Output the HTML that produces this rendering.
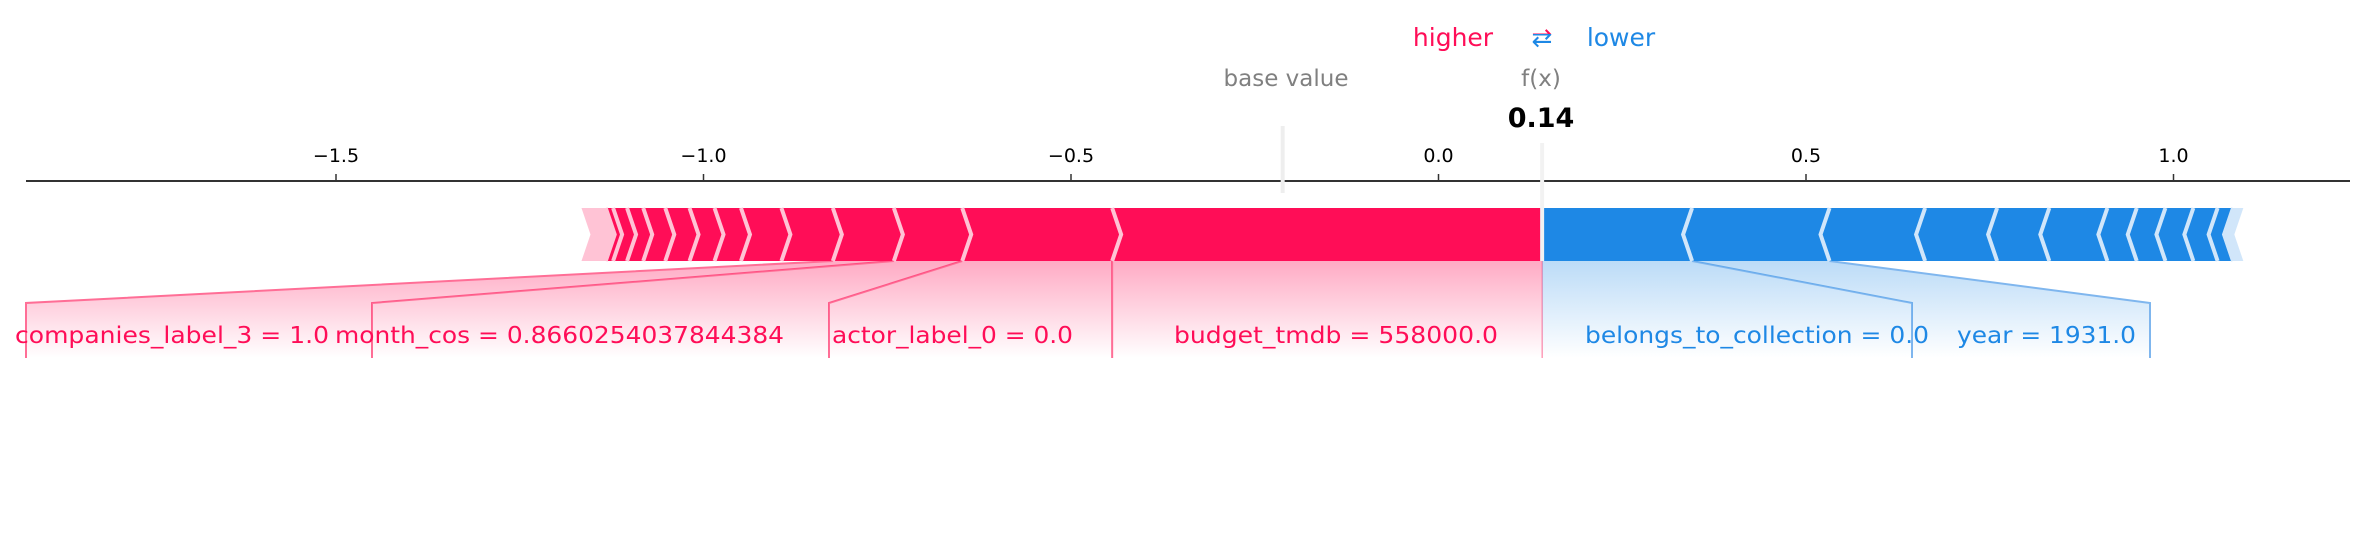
<!DOCTYPE html>
<html><head><meta charset="utf-8">
<style>
html,body{margin:0;padding:0;background:#fff;}
svg{display:block;font-family:"DejaVu Sans","Liberation Sans",sans-serif;}
</style></head>
<body>
<svg id="chart" width="2366" height="543" viewBox="0 0 2366 543" xmlns="http://www.w3.org/2000/svg">
<defs>
<linearGradient id="gr" x1="0" y1="0" x2="0" y2="1"><stop offset="0" stop-color="#ff0d57" stop-opacity="0.35"/><stop offset="1" stop-color="#ff0d57" stop-opacity="0"/></linearGradient>
<linearGradient id="gb" x1="0" y1="0" x2="0" y2="1"><stop offset="0" stop-color="#1e88e5" stop-opacity="0.3"/><stop offset="1" stop-color="#1e88e5" stop-opacity="0"/></linearGradient>
<clipPath id="arrTop"><rect x="1520" y="10" width="44" height="24"/></clipPath>
<clipPath id="arrBot"><rect x="1520" y="34" width="44" height="20"/></clipPath>
</defs>
<g id="shade"></g>
<g id="axis"></g>
<g id="bars"></g>
<g id="labels"></g>
<g id="header">
<text x="1453" y="46" font-size="25" fill="#ff0d57" text-anchor="middle">higher</text>
<text x="1542" y="46" font-size="25" fill="#ff0d57" text-anchor="middle" clip-path="url(#arrTop)">⇄</text>
<text x="1542" y="46" font-size="25" fill="#1e88e5" text-anchor="middle" clip-path="url(#arrBot)">⇄</text>
<text x="1621" y="46" font-size="25" fill="#1e88e5" text-anchor="middle">lower</text>
<text x="1286" y="86" font-size="23" fill="#808080" text-anchor="middle">base value</text>
<text x="1541" y="86" font-size="23" fill="#808080" text-anchor="middle">f(x)</text>
<text id="fxval" x="1541" y="127" font-size="27" font-weight="bold" fill="#000" text-anchor="middle"></text>
</g>
</svg>
<script>
const baseValue = -0.212;
const redNames = ["budget_tmdb = 558000.0","actor_label_0 = 0.0","month_cos = 0.8660254037844384","companies_label_3 = 1.0"];
const redValues = [0.585,0.204,0.093,0.083,0.070,0.055,0.036,0.034,0.033,0.030,0.022,0.019,0.010];
const redOther = 0.033;
const blueNames = ["belongs_to_collection = 0.0","year = 1931.0"];
const blueValues = [0.204,0.187,0.130,0.098,0.071,0.079,0.040,0.039,0.038,0.033,0.021];
const blueOther = 0.014;
const tickValues = [-1.5,-1.0,-0.5,0.0,0.5,1.0];
const tickLabels = ["\u22121.5","\u22121.0","\u22120.5","0.0","0.5","1.0"];

const NS="http://www.w3.org/2000/svg";
const X = v => 1438.5 + 735*v;
function mk(tag, attrs, parent){const e=document.createElementNS(NS,tag);for(const k in attrs)e.setAttribute(k,attrs[k]);document.getElementById(parent).appendChild(e);return e;}
const sum=a=>a.reduce((s,v)=>s+v,0);
const fx = baseValue + sum(redValues) + redOther - sum(blueValues) - blueOther;
document.getElementById('fxval').textContent = fx.toFixed(2);

const yTop=208, yBot=261, yMid=(yTop+yBot)/2, tip=9, knee=303, lend=358;

let ax = mk('line',{x1:26,x2:2350,y1:181,y2:181,stroke:'#333',"stroke-width":2},'axis');


tickValues.forEach((v,i)=>{
  const t=mk('line',{x1:X(v),x2:X(v),y1:174,y2:181,stroke:'#333',"stroke-width":1.5},'axis');
  
  
  const l=mk('text',{x:X(v),y:162,"font-size":19,"text-anchor":"middle",fill:'#000'},'axis');
  l.textContent=tickLabels[i];
  
  
});
let bl=mk('line',{x1:X(baseValue),x2:X(baseValue),y1:126,y2:193,stroke:'#eeeeee',"stroke-width":4},'axis');



const redB=[fx]; redValues.forEach(v=>redB.push(redB[redB.length-1]-v)); redB.push(redB[redB.length-1]-redOther);
const blueB=[fx]; blueValues.forEach(v=>blueB.push(blueB[blueB.length-1]+v)); blueB.push(blueB[blueB.length-1]+blueOther);

const redLabelLeft=[null,829,372,26];
const redText=[[1174,324],[832,241],[335,449],[15,314]];
for(let i=0;i<redNames.length;i++){
  const segR=X(redB[i]), segL=X(redB[i+1]);
  const lx = i===0? segL : redLabelLeft[i];
  const rx = i===0? X(fx) : (i===1? X(redB[1]) : redLabelLeft[i-1]);
  const p=mk('polygon',{points:`${segL},${yBot} ${segR},${yBot} ${rx},${knee} ${rx},${lend} ${lx},${lend} ${lx},${knee}`,fill:'url(#gr)'},'shade');
  
  
  const c=mk('polyline',{points:`${segL},${yBot} ${lx},${knee} ${lx},${lend}`,fill:'none',stroke:'#ff6e96',"stroke-width":2},'shade');
  
  
  const t=mk('text',{x:redText[i][0],y:343,"font-size":23,fill:'#ff0d57',textLength:redText[i][1],lengthAdjust:'spacingAndGlyphs'},'labels');
  t.textContent=redNames[i];
  
  
}
let fl=mk('line',{x1:X(fx),x2:X(fx),y1:yBot,y2:lend,stroke:'#ff6e96',"stroke-width":1},'shade');


const blueLabelRight=[1912,2150];
const blueText=[[1585,344],[1957,179]];
for(let i=0;i<blueNames.length;i++){
  const segL=X(blueB[i]), segR=X(blueB[i+1]);
  const rx=blueLabelRight[i], lx= i===0? X(fx) : blueLabelRight[i-1];
  const p=mk('polygon',{points:`${segL},${yBot} ${segR},${yBot} ${rx},${knee} ${rx},${lend} ${lx},${lend} ${lx},${knee}`,fill:'url(#gb)'},'shade');
  
  
  const c=mk('polyline',{points:`${segR},${yBot} ${rx},${knee} ${rx},${lend}`,fill:'none',stroke:'#7fb6ee',"stroke-width":2},'shade');
  
  
  const t=mk('text',{x:blueText[i][0],y:343,"font-size":23,fill:'#1e88e5',textLength:blueText[i][1],lengthAdjust:'spacingAndGlyphs'},'labels');
  t.textContent=blueNames[i];
  
  
}

for(let i=0;i<redB.length-1;i++){
  const r=X(redB[i]), l=X(redB[i+1]);
  const pale = i===redB.length-2;
  const rt = i===0?0:tip;
  const p=mk('polygon',{points:`${l},${yTop} ${r},${yTop} ${r+rt},${yMid} ${r},${yBot} ${l},${yBot} ${l+tip},${yMid}`,fill:pale?'#ffc3d5':'#ff0d57'},'bars');
  
  
  if(i>0){
    const s=mk('polyline',{points:`${r},${yTop} ${r+tip},${yMid} ${r},${yBot}`,fill:'none',stroke:'#ffc3d5',"stroke-width":4},'bars');
    
    
  }
}
for(let i=0;i<blueB.length-1;i++){
  const l=X(blueB[i]), r=X(blueB[i+1]);
  const pale = i===blueB.length-2;
  const lt = i===0?0:tip;
  const p=mk('polygon',{points:`${l},${yTop} ${r},${yTop} ${r-tip},${yMid} ${r},${yBot} ${l},${yBot} ${l-lt},${yMid}`,fill:pale?'#d1e6fa':'#1e88e5'},'bars');
  
  
  if(i>0){
    const s=mk('polyline',{points:`${l},${yTop} ${l-tip},${yMid} ${l},${yBot}`,fill:'none',stroke:'#d1e6fa',"stroke-width":4},'bars');
    
    
  }
}
let fxl=mk('line',{x1:X(fx),x2:X(fx),y1:143,y2:yBot,stroke:'#f2f2f2',"stroke-width":4},'bars');


</script>
</body></html>
